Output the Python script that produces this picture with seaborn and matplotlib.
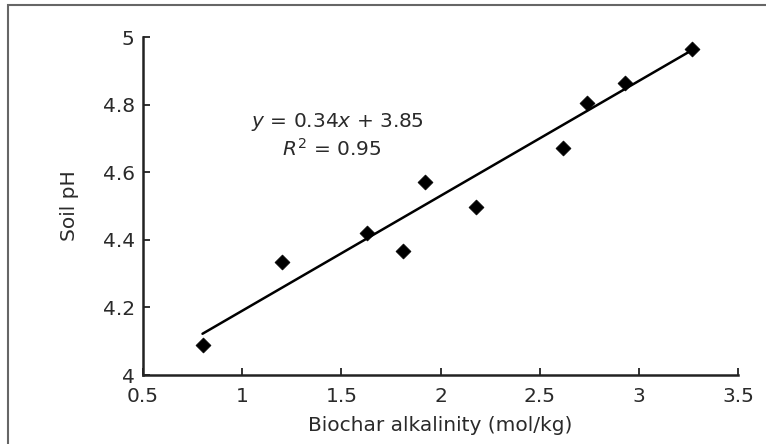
import matplotlib
matplotlib.use("Agg")
import matplotlib.pyplot as plt
import seaborn as sns
import numpy as np
import pandas as pd
from matplotlib.patches import Rectangle

alkalinity = [0.80, 1.20, 1.63, 1.81, 1.92, 2.18, 2.62, 2.74, 2.93, 3.27]
soil_ph = [4.09, 4.335, 4.42, 4.367, 4.572, 4.496, 4.672, 4.805, 4.864, 4.964]
slope = 0.34
intercept = 3.85
x_ticks = [0.5, 1, 1.5, 2, 2.5, 3, 3.5]
x_tick_labels = ["0.5", "1", "1.5", "2", "2.5", "3", "3.5"]
y_ticks = [4, 4.2, 4.4, 4.6, 4.8, 5]
y_tick_labels = ["4", "4.2", "4.4", "4.6", "4.8", "5"]

sns.set_style("ticks")
plt.rcParams['font.family'] = ['DejaVu Sans']
plt.rcParams['mathtext.fontset'] = 'dejavusans'

df = pd.DataFrame({"x": alkalinity, "y": soil_ph})
fit_x = np.array([min(alkalinity), max(alkalinity)])
fit_df = pd.DataFrame({"x": fit_x, "y": slope * fit_x + intercept})

fig = plt.figure(figsize=(7.66, 4.44), dpi=100)
ax = fig.add_axes([143/766, 1 - 375/444, (738-143)/766, (375-37)/444])

sns.lineplot(data=fit_df, x="x", y="y", ax=ax, color="black", linewidth=1.8)
sns.scatterplot(data=df, x="x", y="y", ax=ax, marker="D", s=58, color="black",
                edgecolor="black", linewidth=0.5, zorder=3)

ax.set_xlim(0.5, 3.5)
ax.set_ylim(4, 5)
ax.set_xticks(x_ticks)
ax.set_xticklabels(x_tick_labels)
ax.set_yticks(y_ticks)
ax.set_yticklabels(y_tick_labels)
ax.tick_params(direction="in", length=5, width=1.3, labelsize=14.5, colors="#222222",
               labelcolor="#2a2a2a")
ax.tick_params(axis="x", pad=8.5)
ax.tick_params(axis="y", pad=6)
for s in ["top", "right"]:
    ax.spines[s].set_visible(False)
for s in ["left", "bottom"]:
    ax.spines[s].set_linewidth(1.8)
    ax.spines[s].set_color("#222222")

ax.set_xlabel("Biochar alkalinity (mol/kg)", fontsize=14.5, color="#2a2a2a", labelpad=7)
ax.set_ylabel("Soil pH", fontsize=14.5, color="#2a2a2a", labelpad=17)

ax.text(1.48, 4.75, f"$y$ = {slope}$x$ + {intercept}", fontsize=14.5, color="#2a2a2a",
        ha="center", va="center")
ax.text(1.45, 4.67, "$R^2$ = 0.95", fontsize=14.5, color="#2a2a2a",
        ha="center", va="center")

fig.patches.append(Rectangle((8/766, -0.1), 1.2, 1 - 5/444 + 0.1, transform=fig.transFigure,
                             fill=False, edgecolor="#666666", linewidth=1.5))

fig.savefig("out.png", dpi=100)
